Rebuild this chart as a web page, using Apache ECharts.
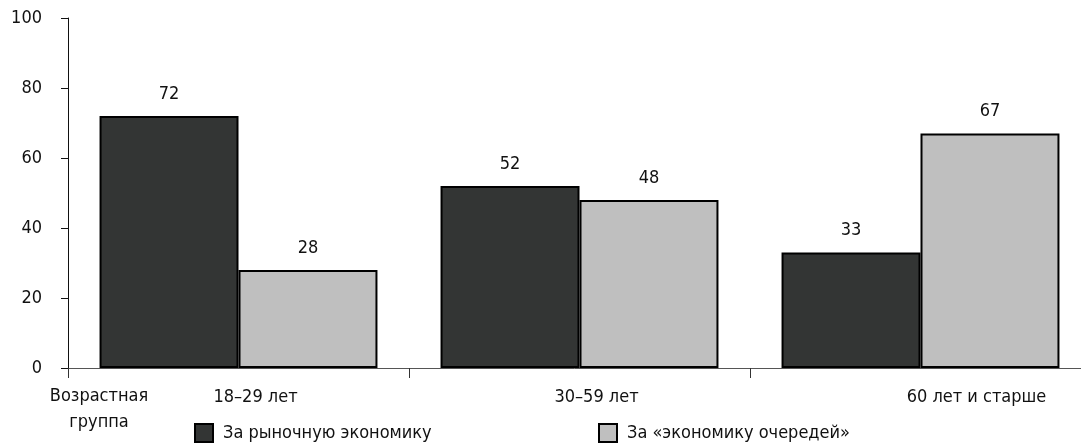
<!DOCTYPE html>
<html><head><meta charset="utf-8">
<script src="https://cdn.jsdelivr.net/npm/echarts@6/dist/echarts.min.js"></script>
<style>html,body{margin:0;padding:0;background:#fff}#c{width:1081px;height:446px}</style>
</head><body><div id="c"></div>
<script>
const categories = ['18–29 лет', '30–59 лет', '60 лет и старше'];
const seriesNames = ['За рыночную экономику', 'За «экономику очередей»'];
const marketValues = [72, 52, 33];
const queueValues = [28, 48, 67];
const axisTitleLines = ['Возрастная', 'группа'];

const FONT = '"Liberation Sans Narrow", "Arial Narrow", "DejaVu Sans Condensed", sans-serif';
const chart = echarts.init(document.getElementById('c'), null, {renderer: 'canvas'});
const lbl = {show: true, position: 'top', distance: 13, color: '#111', fontFamily: FONT, fontSize: 18};
const legendBase = {icon: 'rect', top: 423, padding: 0, itemWidth: 18, itemHeight: 18, itemGap: 8,
  textStyle: {fontFamily: FONT, fontSize: 18, color: '#111', padding: [0, 0, 0, 5]}};
chart.setOption({
  animation: false,
  textStyle: {fontFamily: FONT},
  grid: {left: 68, width: 1023, top: 18, height: 350, containLabel: false, outerBoundsMode: 'none'},
  legend: [
    Object.assign({data: [seriesNames[0]], left: 194}, legendBase),
    Object.assign({data: [seriesNames[1]], left: 598}, legendBase)
  ],
  xAxis: {
    type: 'category', data: categories,
    axisLine: {lineStyle: {color: '#555', width: 1}},
    axisTick: {show: true, length: 10, lineStyle: {color: '#333'}},
    axisLabel: {
      margin: 20, color: '#111', fontFamily: FONT, fontSize: 18,
      formatter: (v, i) => '{c' + i + '|' + v + '}',
      rich: {
        c0: {padding: [0, 0, 0, 34], fontFamily: FONT, fontSize: 18, color: '#111'},
        c1: {padding: [0, 0, 0, 34], fontFamily: FONT, fontSize: 18, color: '#111'},
        c2: {padding: [0, 0, 0, 112], fontFamily: FONT, fontSize: 18, color: '#111'}
      }
    }
  },
  yAxis: {
    type: 'value', min: 0, max: 100, interval: 20,
    splitLine: {show: false},
    axisLine: {show: true, lineStyle: {color: '#111', width: 1}},
    axisTick: {show: true, length: 7, lineStyle: {color: '#111'}},
    axisLabel: {margin: 26, color: '#111', fontFamily: FONT, fontSize: 18}
  },
  graphic: axisTitleLines.map((t, i) => ({
    type: 'text', x: 99, y: 396 + i * 26,
    style: {text: t, fill: '#111', font: '18px ' + FONT, align: 'center', verticalAlign: 'middle'}
  })),
  series: [
    {name: seriesNames[0], type: 'bar', data: marketValues, barGap: '0%', barCategoryGap: '18.5%',
     itemStyle: {color: '#333534', borderColor: '#000', borderWidth: 2}, label: lbl},
    {name: seriesNames[1], type: 'bar', data: queueValues, barGap: '0%', barCategoryGap: '18.5%',
     itemStyle: {color: '#bfbfbf', borderColor: '#000', borderWidth: 2}, label: lbl}
  ]
});
</script></body></html>
